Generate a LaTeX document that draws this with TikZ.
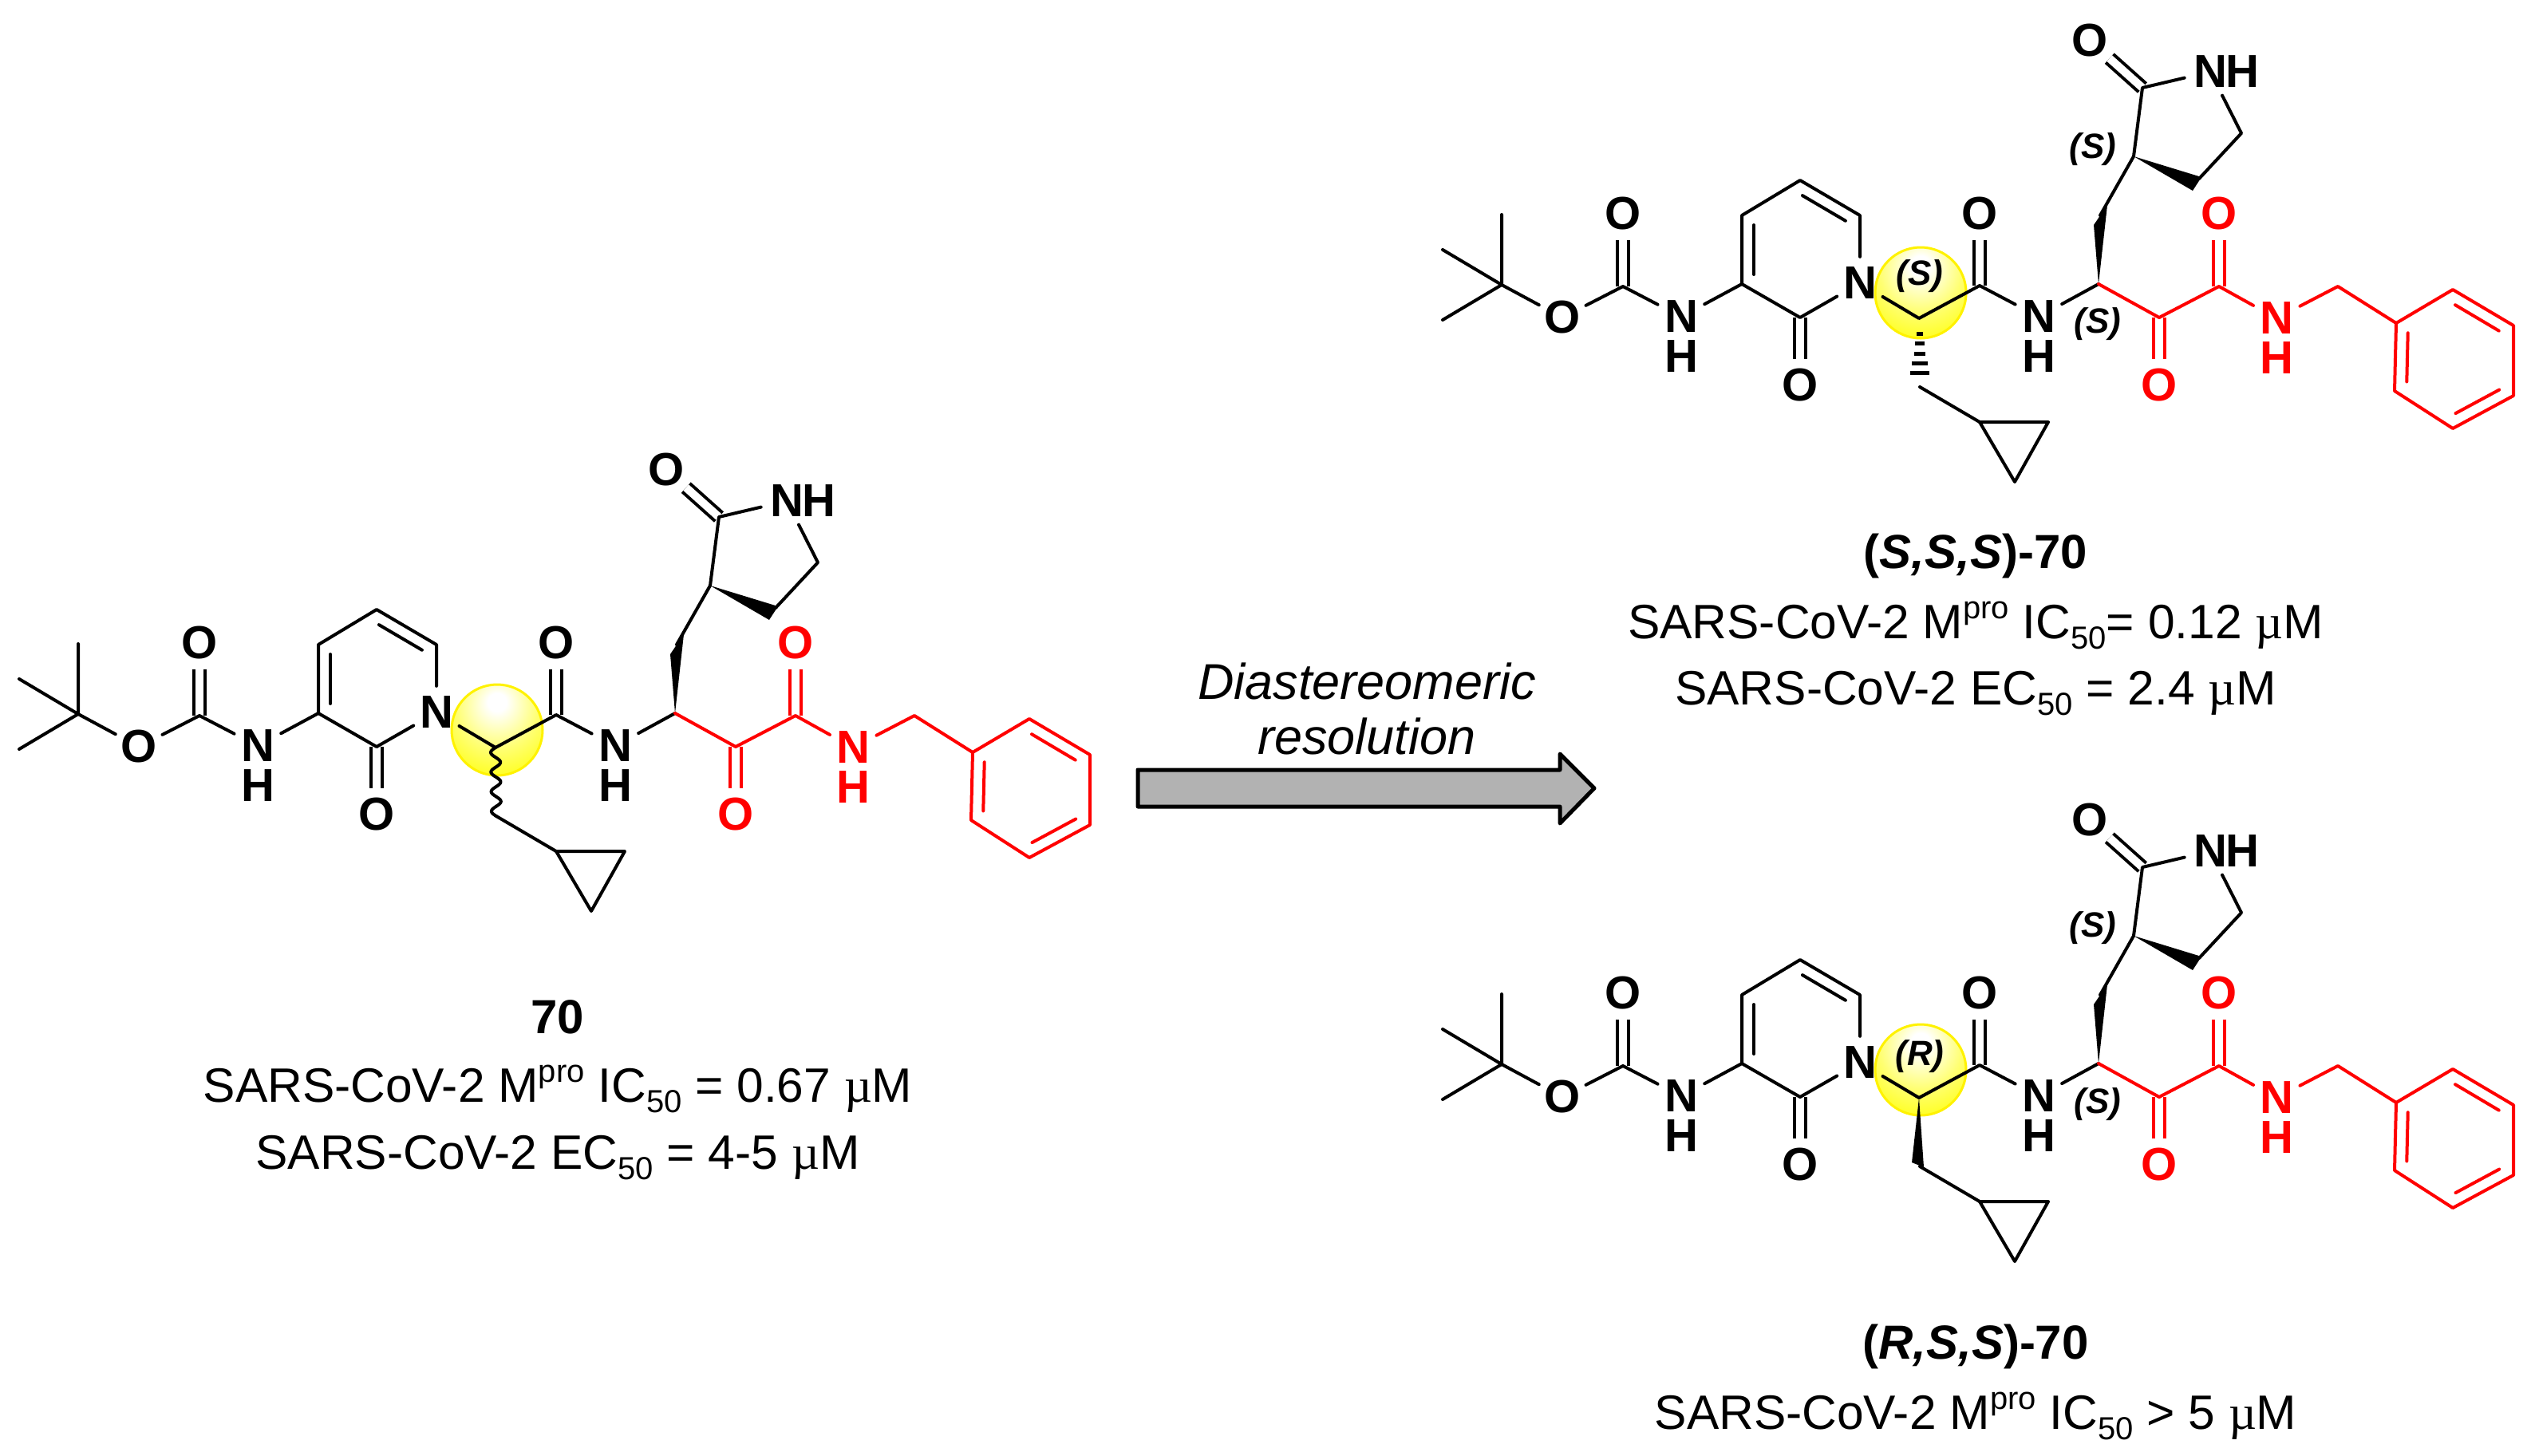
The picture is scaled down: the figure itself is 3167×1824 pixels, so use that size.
\documentclass[tikz,border=0pt]{standalone}
\usepackage{fontspec}
\setmainfont{Liberation Sans}
\newfontfamily\symf{Liberation Serif}
\usetikzlibrary{calc}
\pgfdeclareradialshading{glow}{\pgfpoint{0bp}{16bp}}{color(0bp)=(white); color(5bp)=(white); color(22bp)=(white!45!yellow); color(40bp)=(yellow); color(80bp)=(yellow)}
\definecolor{arrowgray}{HTML}{B2B2B2}
\tikzset{
  x=1pt,y=-1pt,
  bond/.style={line width=4pt,line join=round,line cap=round},
  redbond/.style={bond,red},
  dbl/.style={line width=4pt,double,double distance=10pt,line cap=butt},
  atom/.style={circle,inner sep=0pt,minimum size=66pt,font=\fontsize{58}{58}\selectfont\bfseries},
  plain/.style={inner sep=0pt,font=\fontsize{58}{58}\selectfont\bfseries},
  stereo/.style={inner sep=0pt,font=\fontsize{44}{44}\selectfont\bfseries\itshape},
  caption/.style={inner sep=0pt,font=\fontsize{60.5}{60.5}\selectfont},
  captionb/.style={inner sep=0pt,font=\fontsize{60}{60}\selectfont\bfseries},
  condition/.style={inner sep=0pt,font=\fontsize{63}{63}\selectfont\itshape},
}
\newcommand\sbs[1]{\raisebox{-0.22em}{\fontsize{40}{40}\selectfont #1}}
\newcommand\sps[1]{\raisebox{0.42em}{\fontsize{40}{40}\selectfont #1}}
\newcommand\mic{{\symf µ}M}
% inner line of a ring double bond, on the right of travel
\newcommand\innerbond[3][bond]{\draw[#1] ($(#2)!.14!(#3)!15pt!-90:(#3)$) -- ($(#3)!.14!(#2)!15pt!90:(#2)$);}
% #1 prefix, #2 xshift, #3 yshift, #4 circle centre y, #5 stereo bond, #6 labels
\newcommand\molecule[6]{%
\begin{scope}[shift={(#2,#3)},name prefix=#1-]
  \shade[shading=glow] (623,#4) circle (58);
  \draw[yellow,line width=3pt] (623,#4) circle (57);
  \coordinate (tb) at (98,895);
  \coordinate (m1) at (98,807);
  \coordinate (m2) at (24,851);
  \coordinate (m3) at (24,939);
  \coordinate (cc) at (250,897);
  \coordinate (c3) at (399,894);
  \coordinate (c4) at (399,808);
  \coordinate (c5) at (472,764);
  \coordinate (c6) at (547,808);
  \coordinate (c2) at (472,936);
  \coordinate (ca) at (621,937);
  \coordinate (ch2) at (622,1023);
  \coordinate (cp1) at (697,1067);
  \coordinate (cp2) at (783,1067);
  \coordinate (cp3) at (741,1142);
  \coordinate (am) at (697,896);
  \coordinate (cb) at (846,894);
  \coordinate (sc) at (848,808);
  \coordinate (r3) at (890,734);
  \coordinate (r2) at (901,648);
  \coordinate (r5) at (1025,705);
  \coordinate (r4) at (972,762);
  \coordinate (k1) at (922,936);
  \coordinate (k2) at (997,897);
  \coordinate (bn) at (1146,897);
  \coordinate (b1) at (1219,943);
  \coordinate (b2) at (1290,901);
  \coordinate (b3) at (1366,946);
  \coordinate (b4) at (1366,1034);
  \coordinate (b5) at (1290,1075);
  \coordinate (b6) at (1217,1028);
  \node[atom] (oe) at (174,936) {O};
  \node[atom] (oc) at (250,806) {O};
  \node[atom] (n1) at (323,935) {N};
  \node[plain] (h1) at (323,985) {H};
  \node[atom] (n) at (547,893) {N};
  \node[atom] (o2) at (472,1021) {O};
  \node[atom] (oa) at (697,806) {O};
  \node[atom] (n2) at (771,935) {N};
  \node[plain] (h2) at (771,985) {H};
  \node[atom] (ol) at (835,589) {O};
  \node[atom] (nl) at (986,628) {N};
  \node[plain] (hl) at (1026,628) {H};
  \node[atom,text=red] (ok1) at (922,1021) {O};
  \node[atom,text=red] (ok2) at (997,806) {O};
  \node[atom,text=red] (n3) at (1069,937) {N};
  \node[plain,text=red] (h3) at (1069,987) {H};
  \draw[dbl] (cc) -- (oc);
  \draw[dbl] (c2) -- (o2);
  \draw[dbl] (am) -- (oa);
  \draw[dbl] (r2) -- (ol);
  \draw[dbl,red] (k1) -- (ok1);
  \draw[dbl,red] (k2) -- (ok2);
  \draw[bond] (tb) -- (m1) (tb) -- (m2) (tb) -- (m3) (tb) -- (oe);
  \draw[bond] (oe) -- (cc) -- (n1) (n1) -- (c3) -- (c4) -- (c5) -- (c6) -- (n);
  \draw[bond] (n) -- (c2) -- (c3);
  \innerbond{c3}{c4}
  \innerbond{c5}{c6}
  \draw[bond] (n) -- (ca) -- (am) -- (n2) (n2) -- (cb);
  \draw[bond] (ch2) -- (cp1);
  \draw[bond] (cp1) -- (cp2) -- (cp3) -- cycle;
  \draw[bond] (sc) -- (r3) -- (r2) -- (nl) (nl) -- (r5) -- (r4);
  \fill[line join=round] (cb) -- (840,820) -- (857,795) -- cycle;
  \fill[line join=round] (r3) -- (964,777) -- (975,760) -- cycle;
  \draw[redbond] (cb) -- (k1) -- (k2) -- (n3) (n3) -- (bn) -- (b1);
  \draw[redbond] (b1) -- (b2) -- (b3) -- (b4) -- (b5) -- (b6) -- cycle;
  \innerbond[redbond]{b2}{b3}
  \innerbond[redbond]{b4}{b5}
  \innerbond[redbond]{b6}{b1}
  #5
  #6
\end{scope}}
\begin{document}
\begin{tikzpicture}
\useasboundingbox (0,0) rectangle (3167,1824);
\fill[white] (0,0) rectangle (3167,1824);
\molecule{l}{0}{0}{915}{%
  \draw[bond] plot[domain=0:1,samples=90] ({621+\x-6*sin(\x*3.5*360)},{937+86*\x});}{}
\molecule{t}{1784}{-538}{905}{%
  \foreach \yy/\hw in {956/4,968/6,981/7,993/10,1005/12}
    \draw[line width=5pt] (622-\hw,\yy) -- (622+\hw,\yy);}{%
  \node[stereo] (s1) at (622,884) {(S)};
  \node[stereo] (s2) at (839,725) {(S)};
  \node[stereo] (s3) at (845,944) {(S)};}
\molecule{b}{1784}{439}{902}{%
  \fill (ca) -- (612,1018) -- (627,1024) -- cycle;}{%
  \node[stereo] (s1) at (622,885) {(R)};
  \node[stereo] (s2) at (839,724) {(S)};
  \node[stereo] (s3) at (845,945) {(S)};}
% arrow
\draw[line width=5pt,line join=round,fill=arrowgray] (1426,965) -- (1955,965) -- (1955,945) -- (1998,988) -- (1955,1032) -- (1955,1011) -- (1426,1011) -- cycle;
\node[condition] (cond1) at (1713,854) {Diastereomeric};
\node[condition] (cond2) at (1713,923) {resolution};
% captions
\node[captionb] (c70) at (699,1275) {70};
\node[caption] (c70a) at (699,1365) {SARS-CoV-2 M\sps{pro} IC\sbs{50} = 0.67 \mic};
\node[caption] (c70b) at (699,1451) {SARS-CoV-2 EC\sbs{50} = 4-5 \mic};
\node[captionb] (css) at (2476,697) {(\textit{S,S,S})-70};
\node[caption] (cssa) at (2476,784) {SARS-CoV-2 M\sps{pro} IC\sbs{50}= 0.12 \mic};
\node[caption] (cssb) at (2476,869) {SARS-CoV-2 EC\sbs{50} = 2.4 \mic};
\node[captionb] (crs) at (2476,1688) {(\textit{R,S,S})-70};
\node[caption] (crsa) at (2476,1775) {SARS-CoV-2 M\sps{pro} IC\sbs{50} > 5 \mic};
\end{tikzpicture}
\end{document}
